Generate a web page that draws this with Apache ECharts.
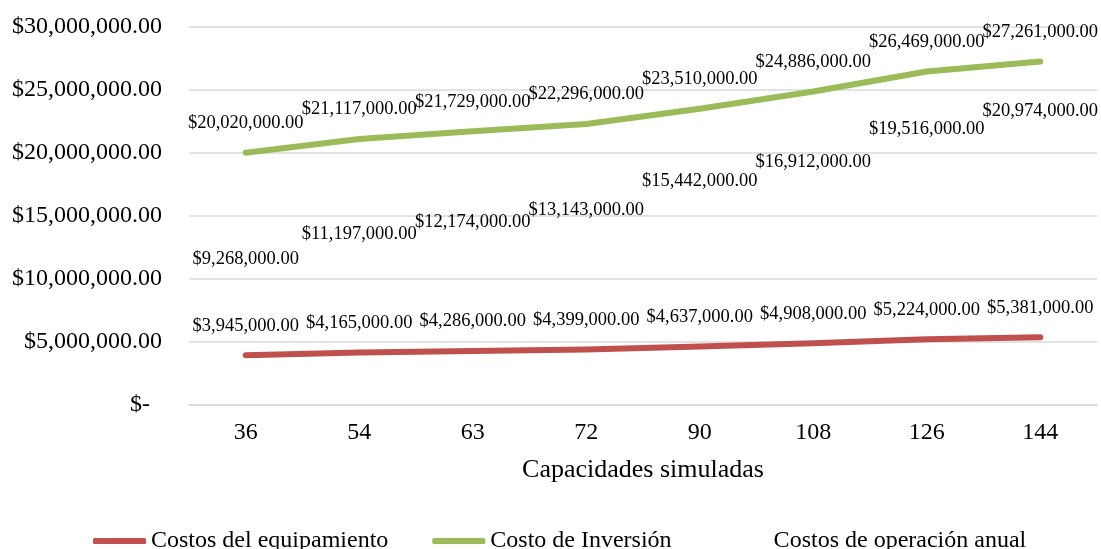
<!DOCTYPE html>
<html>
<head>
<meta charset="utf-8">
<script src="https://cdn.jsdelivr.net/npm/echarts@6/dist/echarts.min.js"></script>
<style>
  html, body { margin: 0; padding: 0; background: #fff; }
  #chart { width: 1101px; height: 549px; }
</style>
</head>
<body>
<div id="chart"></div>
<script>
// datos
const capacidades = ['36', '54', '63', '72', '90', '108', '126', '144']
const costosEquipamiento = [3945000, 4165000, 4286000, 4399000, 4637000, 4908000, 5224000, 5381000]
const costoInversion = [20020000, 21117000, 21729000, 22296000, 23510000, 24886000, 26469000, 27261000]
const costosOperacion = [9268000, 11197000, 12174000, 13143000, 15442000, 16912000, 19516000, 20974000]

const serif = '"Liberation Serif", "Times New Roman", serif'

function moneda(v) {
    if (v === 0) return '$-  '
    return '$' + Number(v).toLocaleString('en-US', { minimumFractionDigits: 2, maximumFractionDigits: 2 })
}

const etiqueta = {
    show: true,
    position: 'top',
    distance: 20,
    color: '#000',
    fontFamily: serif,
    fontSize: 18.5,
    formatter: p => moneda(p.value)
}

let myChart = echarts.init(document.getElementById('chart'))
let option = {
    animation: false,
    textStyle: { fontFamily: serif },
    grid: {
        left: 189,
        right: 4,
        top: 27,
        bottom: 144
    },
    legend: {
        left: 88,
        top: 524,
        icon: 'roundRect',
        itemWidth: 53,
        itemHeight: 6,
        itemGap: 44,
        textStyle: { color: '#000', fontSize: 24, fontFamily: serif },
        data: ['Costos del equipamiento', 'Costo de Inversión', 'Costos de operación anual']
    },
    xAxis: {
        type: 'category',
        data: capacidades,
        name: 'Capacidades simuladas',
        nameLocation: 'middle',
        nameGap: 52,
        nameTextStyle: { color: '#000', fontSize: 26, fontFamily: serif },
        axisTick: { show: false },
        axisLine: { lineStyle: { color: '#d9d9d9', width: 1.5 } },
        axisLabel: { color: '#000', fontSize: 24, fontFamily: serif, margin: 16 }
    },
    yAxis: {
        type: 'value',
        min: 0,
        max: 30000000,
        interval: 5000000,
        axisLine: { show: false },
        axisTick: { show: false },
        axisLabel: {
            color: '#000',
            fontSize: 24,
            fontFamily: serif,
            margin: 27,
            formatter: moneda
        },
        splitLine: { lineStyle: { color: '#d9d9d9', width: 1.5 } }
    },
    series: [
        {
            name: 'Costos del equipamiento',
            type: 'line',
            data: costosEquipamiento,
            showSymbol: true,
            symbol: 'circle',
            symbolSize: 0,
            color: '#c0504d',
            lineStyle: { width: 6, cap: 'round', join: 'round' },
            label: etiqueta
        },
        {
            name: 'Costo de Inversión',
            type: 'line',
            data: costoInversion,
            showSymbol: true,
            symbol: 'circle',
            symbolSize: 0,
            color: '#9bbb59',
            lineStyle: { width: 6, cap: 'round', join: 'round' },
            label: etiqueta
        },
        {
            name: 'Costos de operación anual',
            type: 'line',
            data: costosOperacion,
            showSymbol: true,
            symbol: 'circle',
            symbolSize: 0,
            color: 'rgba(0,0,0,0)',
            lineStyle: { width: 6, opacity: 0 },
            label: etiqueta
        }
    ]
}
myChart.setOption(option)
window.addEventListener('resize', function () {
    myChart.resize()
})
</script>
</body>
</html>
